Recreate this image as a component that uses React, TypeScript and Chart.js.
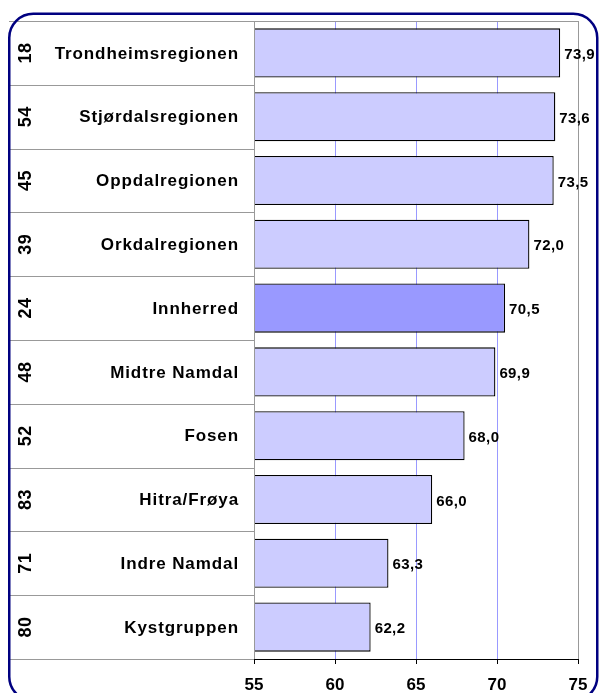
import React, { useEffect, useRef } from "react";
import { Chart, registerables } from "chart.js";

Chart.register(...registerables);

const categories = [
  "Trondheimsregionen",
  "Stjørdalsregionen",
  "Oppdalregionen",
  "Orkdalregionen",
  "Innherred",
  "Midtre Namdal",
  "Fosen",
  "Hitra/Frøya",
  "Indre Namdal",
  "Kystgruppen",
];
const codes = ["18", "54", "45", "39", "24", "48", "52", "83", "71", "80"];
const values = [73.9, 73.6, 73.5, 72.0, 70.5, 69.9, 68.0, 66.0, 63.3, 62.2];
const highlighted = "Innherred";
const xMin = 55;
const xMax = 75;
const xStep = 5;
const gridValues = [60, 65, 70];

const FONT = "'Liberation Sans', Arial, sans-serif";

const tablePlugin = {
  id: "tablePlugin",
  beforeDatasetsDraw(chart: any) {
    const { ctx, chartArea, scales } = chart;
    ctx.save();
    ctx.strokeStyle = "#9999FF";
    ctx.lineWidth = 1;
    gridValues.forEach((v) => {
      const px = Math.round(scales.x.getPixelForValue(v)) + 0.5;
      ctx.beginPath();
      ctx.moveTo(px, chartArea.top);
      ctx.lineTo(px, chartArea.bottom);
      ctx.stroke();
    });
    ctx.strokeStyle = "#999";
    const rx = Math.round(scales.x.getPixelForValue(xMax)) + 0.5;
    ctx.beginPath();
    ctx.moveTo(rx, chartArea.top);
    ctx.lineTo(rx, chartArea.bottom);
    ctx.stroke();
    ctx.restore();
  },
  afterDatasetsDraw(chart: any) {
    const { ctx, chartArea, scales } = chart;
    const y = scales.y;
    const n = categories.length;
    const top = chartArea.top;
    const bottom = chartArea.bottom;
    const rowH = (bottom - top) / n;
    ctx.save();
    // data labels
    ctx.font = `bold 15px ${FONT}`;
    (ctx as any).letterSpacing = "0.4px";
    ctx.fillStyle = "#000";
    ctx.textAlign = "left";
    ctx.textBaseline = "middle";
    const meta = chart.getDatasetMeta(0);
    meta.data.forEach((bar: any, i: number) => {
      ctx.fillText(values[i].toFixed(1).replace(".", ","), bar.x + 4, bar.y + 2);
    });
    // gray lines
    ctx.strokeStyle = "#999";
    ctx.lineWidth = 1;
    for (let k = 0; k <= n; k++) {
      const yy = Math.round(top + rowH * k) + 0.5;
      ctx.beginPath();
      ctx.moveTo(9, yy);
      ctx.lineTo(chartArea.left - 2, yy);
      ctx.stroke();
      ctx.beginPath();
      ctx.moveTo(chartArea.left - 5, yy);
      ctx.lineTo(chartArea.left, yy);
      ctx.stroke();
    }
    // plot area top and left
    ctx.beginPath();
    ctx.moveTo(chartArea.left, Math.round(top) + 0.5);
    ctx.lineTo(chartArea.right, Math.round(top) + 0.5);
    ctx.moveTo(Math.round(chartArea.left) + 0.5, top);
    ctx.lineTo(Math.round(chartArea.left) + 0.5, bottom);
    ctx.stroke();
    // names and codes
    ctx.fillStyle = "#000";
    for (let i = 0; i < n; i++) {
      const cy = y.getPixelForValue(i);
      ctx.font = `bold 17px ${FONT}`;
      (ctx as any).letterSpacing = "0.9px";
      ctx.textAlign = "right";
      ctx.textBaseline = "middle";
      ctx.fillText(categories[i], chartArea.left - 15, cy + 1);
      ctx.font = `bold 18px ${FONT}`;
      (ctx as any).letterSpacing = "0.5px";
      ctx.save();
      ctx.translate(25.5, cy);
      ctx.rotate(-Math.PI / 2);
      ctx.textAlign = "center";
      ctx.textBaseline = "middle";
      ctx.fillText(codes[i], 0, 1);
      ctx.restore();
    }
    // outer rounded border
    ctx.strokeStyle = "#000080";
    ctx.lineWidth = 2.5;
    ctx.beginPath();
    ctx.roundRect(9.25, 13.75, 588, 687, 24);
    ctx.stroke();
    ctx.restore();
  },
};

export default function App() {
  const ref = useRef<HTMLCanvasElement>(null);
  useEffect(() => {
    if (!ref.current) return;
    const chart = new Chart(ref.current, {
      type: "bar",
      data: {
        labels: categories,
        datasets: [
          {
            data: values,
            backgroundColor: categories.map((c) => (c === highlighted ? "#9999FF" : "#CCCCFF")),
            borderColor: "#000",
            borderWidth: 1.3,
            borderSkipped: false,
            categoryPercentage: 1,
            barPercentage: 0.77,
          },
        ],
      },
      options: {
        indexAxis: "y",
        responsive: false,
        animation: false,
        events: [],
        layout: { padding: { left: 254, top: 21, right: 22, bottom: 0 } },
        plugins: { legend: { display: false }, tooltip: { enabled: false } },
        scales: {
          y: { display: false, offset: true },
          x: {
            min: xMin,
            max: xMax,
            afterFit: (s: any) => {
              s.height = 34;
            },
            ticks: {
              stepSize: xStep,
              color: "#000",
              font: { family: FONT, size: 17, weight: "bold" },
              padding: 11,
              maxRotation: 0,
            },
            grid: {
              drawOnChartArea: false,
              lineWidth: 1,
              tickLength: 5,
              tickColor: "#000",
              drawTicks: true,
            },
            border: { display: true, color: "#000", width: 1 },
          },
        },
      },
      plugins: [tablePlugin],
    } as any);
    return () => chart.destroy();
  }, []);
  return (
    <canvas
      ref={ref}
      width={600}
      height={693}
      style={{ position: "fixed", left: 0, top: 0, width: 600, height: 693 }}
    />
  );
}
